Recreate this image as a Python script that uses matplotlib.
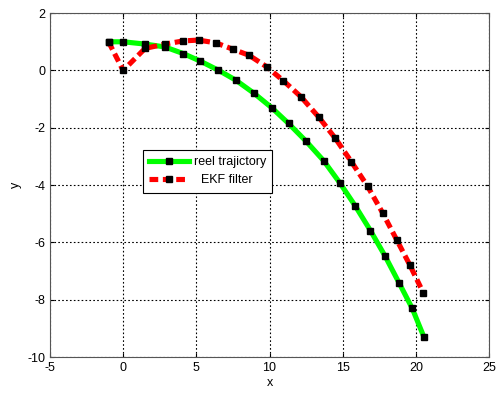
import numpy as np
import matplotlib
matplotlib.use("Agg")
import matplotlib.pyplot as plt

plt.rcParams['font.family'] = ['Liberation Sans', 'DejaVu Sans']
plt.rcParams['axes.unicode_minus'] = False

# reel trajectory (green)
x_true = [-1.0, 0.0, 1.5, 2.85, 4.1, 5.25, 6.5, 7.7, 8.95, 10.15, 11.3,
          12.5, 13.7, 14.8, 15.85, 16.9, 17.9, 18.85, 19.75, 20.55]
y_true = [1.0, 1.0, 0.92, 0.82, 0.59, 0.33, 0.01, -0.34, -0.8, -1.3, -1.85,
          -2.47, -3.15, -3.92, -4.72, -5.59, -6.48, -7.41, -8.3, -9.3]

# EKF filter (red)
x_ekf = [-1.0, 0.0, 1.5, 2.85, 4.1, 5.15, 6.35, 7.5, 8.6, 9.8, 10.95,
         12.15, 13.35, 14.5, 15.6, 16.7, 17.75, 18.7, 19.6, 20.5]
y_ekf = [1.0, 0.0, 0.77, 0.92, 1.03, 1.06, 0.96, 0.74, 0.53, 0.13, -0.36,
         -0.92, -1.62, -2.37, -3.19, -4.04, -4.99, -5.92, -6.8, -7.75]

fig = plt.figure(figsize=(4.99, 3.98), dpi=100)
ax = fig.add_axes([0.1002, 0.103, 0.8798, 0.864])

ax.plot(x_true, y_true, color="#00ff00", lw=3.7, marker="s", ms=5,
        mfc="black", mec="black", label="reel trajictory")
ax.plot(x_ekf, y_ekf, color="#ff0000", lw=3.7, ls=(0, (1.7, 0.9)), marker="s",
        ms=5, mfc="black", mec="black", label="  EKF filter")

ax.set_xlim(-5, 25)
ax.set_ylim(-10, 2)
ax.set_xticks(range(-5, 26, 5))
ax.set_yticks(range(-10, 3, 2))
ax.grid(True, color="black", ls=(0, (1.5, 2)), lw=0.8)
ax.tick_params(direction="in", labelsize=9, length=3, top=True, right=True)
for s in ax.spines.values():
    s.set_color("#555555")
ax.set_xlabel("x", fontsize=9, labelpad=2)
ax.set_ylabel("y", fontsize=9, labelpad=4)

leg = ax.legend(loc="upper left", bbox_to_anchor=(0.211, 0.602), fontsize=9,
                fancybox=False, edgecolor="black", framealpha=1, numpoints=1,
                borderaxespad=0, handlelength=3.2, labelspacing=0.5,
                borderpad=0.5, handletextpad=0.4)
leg.get_frame().set_linewidth(0.8)

fig.savefig("out.png", dpi=100)
